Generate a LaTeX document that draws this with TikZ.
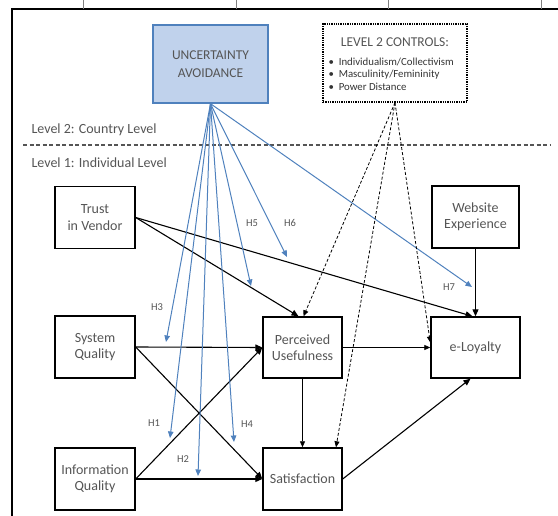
\documentclass[tikz,border=0pt]{standalone}
\usepackage{fontspec}
\setmainfont{Carlito}
\usetikzlibrary{arrows.meta}
\definecolor{txtgray}{RGB}{85,85,85}
\definecolor{uablue}{RGB}{79,129,189}
\definecolor{uafill}{RGB}{192,210,236}
\begin{document}
\begin{tikzpicture}[x=1pt,y=-1pt,
  box/.style={draw, line width=1.4pt, minimum width=80pt, minimum height=62pt, align=center,
    text=txtgray, font=\fontsize{14}{16.5}\selectfont},
  hyp/.style={draw=uablue, line width=1pt, -{Triangle[length=6.5pt,width=5.5pt]}},
  link/.style={draw, line width=1.1pt, -{Triangle[length=7pt,width=6pt]}},
  thinlink/.style={draw, line width=0.8pt, -{Triangle[length=6pt,width=5pt]}},
  ctrllink/.style={draw, line width=0.8pt, densely dashed, -{Triangle[length=6pt,width=5pt]}},
  lbl/.style={text=txtgray, font=\fontsize{10.5}{12}\selectfont},
  lvl/.style={text=txtgray, font=\fontsize{14}{16}\selectfont, anchor=west}]
\useasboundingbox (0,0) rectangle (558,516);
\draw[line width=1.4pt] (12,516) -- (12,9) -- (558,9);
\foreach \tx in {83,236,388,541}
  \draw[gray, line width=0.4pt] (\tx,0) -- (\tx,9);

\node[box, minimum width=115pt, minimum height=78pt, fill=uafill, draw=uablue,
  font=\fontsize{13.5}{18}\selectfont] (ua) at (210.5,64) {UNCERTAINTY\\AVOIDANCE};
\node[draw, densely dotted, line width=1.3pt, minimum width=144pt, minimum height=78pt] (ctrl) at (395,63) {};
\node[text=txtgray, font=\fontsize{13.5}{15}\selectfont] (ctrltitle) at (395,42) {LEVEL 2 CONTROLS:};
\node[anchor=west, font=\fontsize{10.8}{12}\selectfont, text=black!80] (item1) at (325,62) {\textbullet\ \ Individualism/Collectivism};
\node[anchor=west, font=\fontsize{10.8}{12}\selectfont, text=black!80] (item2) at (325,74.5) {\textbullet\ \ Masculinity/Femininity};
\node[anchor=west, font=\fontsize{10.8}{12}\selectfont, text=black!80] (item3) at (325,87) {\textbullet\ \ Power Distance};

\node[lvl] (lvltwo) at (28,130) {Level 2: Country Level};
\path[draw, txtgray, line width=1.2pt, dash pattern=on 4pt off 2.5pt] (23,145) -- (550,145);
\node[lvl] (lvlone) at (28,163) {Level 1: Individual Level};

\node[box] (trust) at (95,217.5) {Trust\\in Vendor};
\node[box, minimum width=87pt] (web) at (475.5,217) {Website\\Experience};
\node[box] (sysq) at (95,347) {System\\Quality};
\node[box, minimum width=79pt, minimum height=61pt] (pu) at (302.5,347.5) {Perceived\\Usefulness};
\node[box, minimum width=89pt, minimum height=61pt] (eloy) at (475.5,347.5) {e-Loyalty};
\node[box] (infoq) at (95,479) {Information\\Quality};
\node[box, minimum width=79pt] (sat) at (302.5,479) {Satisfaction};

\path[link] (trust.east) -- ([xshift=-4pt]pu.north);
\path[link] (trust.east) -- ([xshift=-3pt]eloy.north);
\path[link] (web.south) -- (eloy.north);
\path[link] (sysq.east) -- (pu.west);
\path[link] (sysq.east) -- (sat.west);
\path[link] (infoq.east) -- (pu.west);
\path[link] (infoq.east) -- (sat.west);
\path[thinlink] (pu.east) -- (eloy.west);
\path[thinlink] (pu.south) -- (sat.north);
\path[link] (sat.east) -- ([xshift=-5pt]eloy.south);

\coordinate (h3end) at (166,342);
\coordinate (h1end) at (170,438);
\coordinate (h2end) at (198,476);
\coordinate (h4end) at (234,442);
\coordinate (h5end) at (251,286);
\coordinate (h6end) at (287,257);
\coordinate (h7end) at (472,287);
\path[hyp] (ua.south) -- (h3end);
\path[hyp] (ua.south) -- (h1end);
\path[hyp] (ua.south) -- (h2end);
\path[hyp] (ua.south) -- (h4end);
\path[hyp] (ua.south) -- (h5end);
\path[hyp] (ua.south) -- (h6end);
\path[hyp] (ua.south) -- (h7end);
\node[lbl] (h3) at (157,307) {H3};
\node[lbl] (h1) at (154,423) {H1};
\node[lbl] (h2) at (183,459) {H2};
\node[lbl] (h4) at (247,424) {H4};
\node[lbl] (h5) at (252,223) {H5};
\node[lbl] (h6) at (290,223) {H6};
\node[lbl] (h7) at (449,287) {H7};

\path[ctrllink] (ctrl.south) -- ([xshift=1pt]pu.north);
\path[ctrllink] (ctrl.south) -- ([xshift=33.5pt]sat.north);
\path[ctrllink] (ctrl.south) -- ([yshift=5pt]eloy.west);
\end{tikzpicture}
\end{document}
